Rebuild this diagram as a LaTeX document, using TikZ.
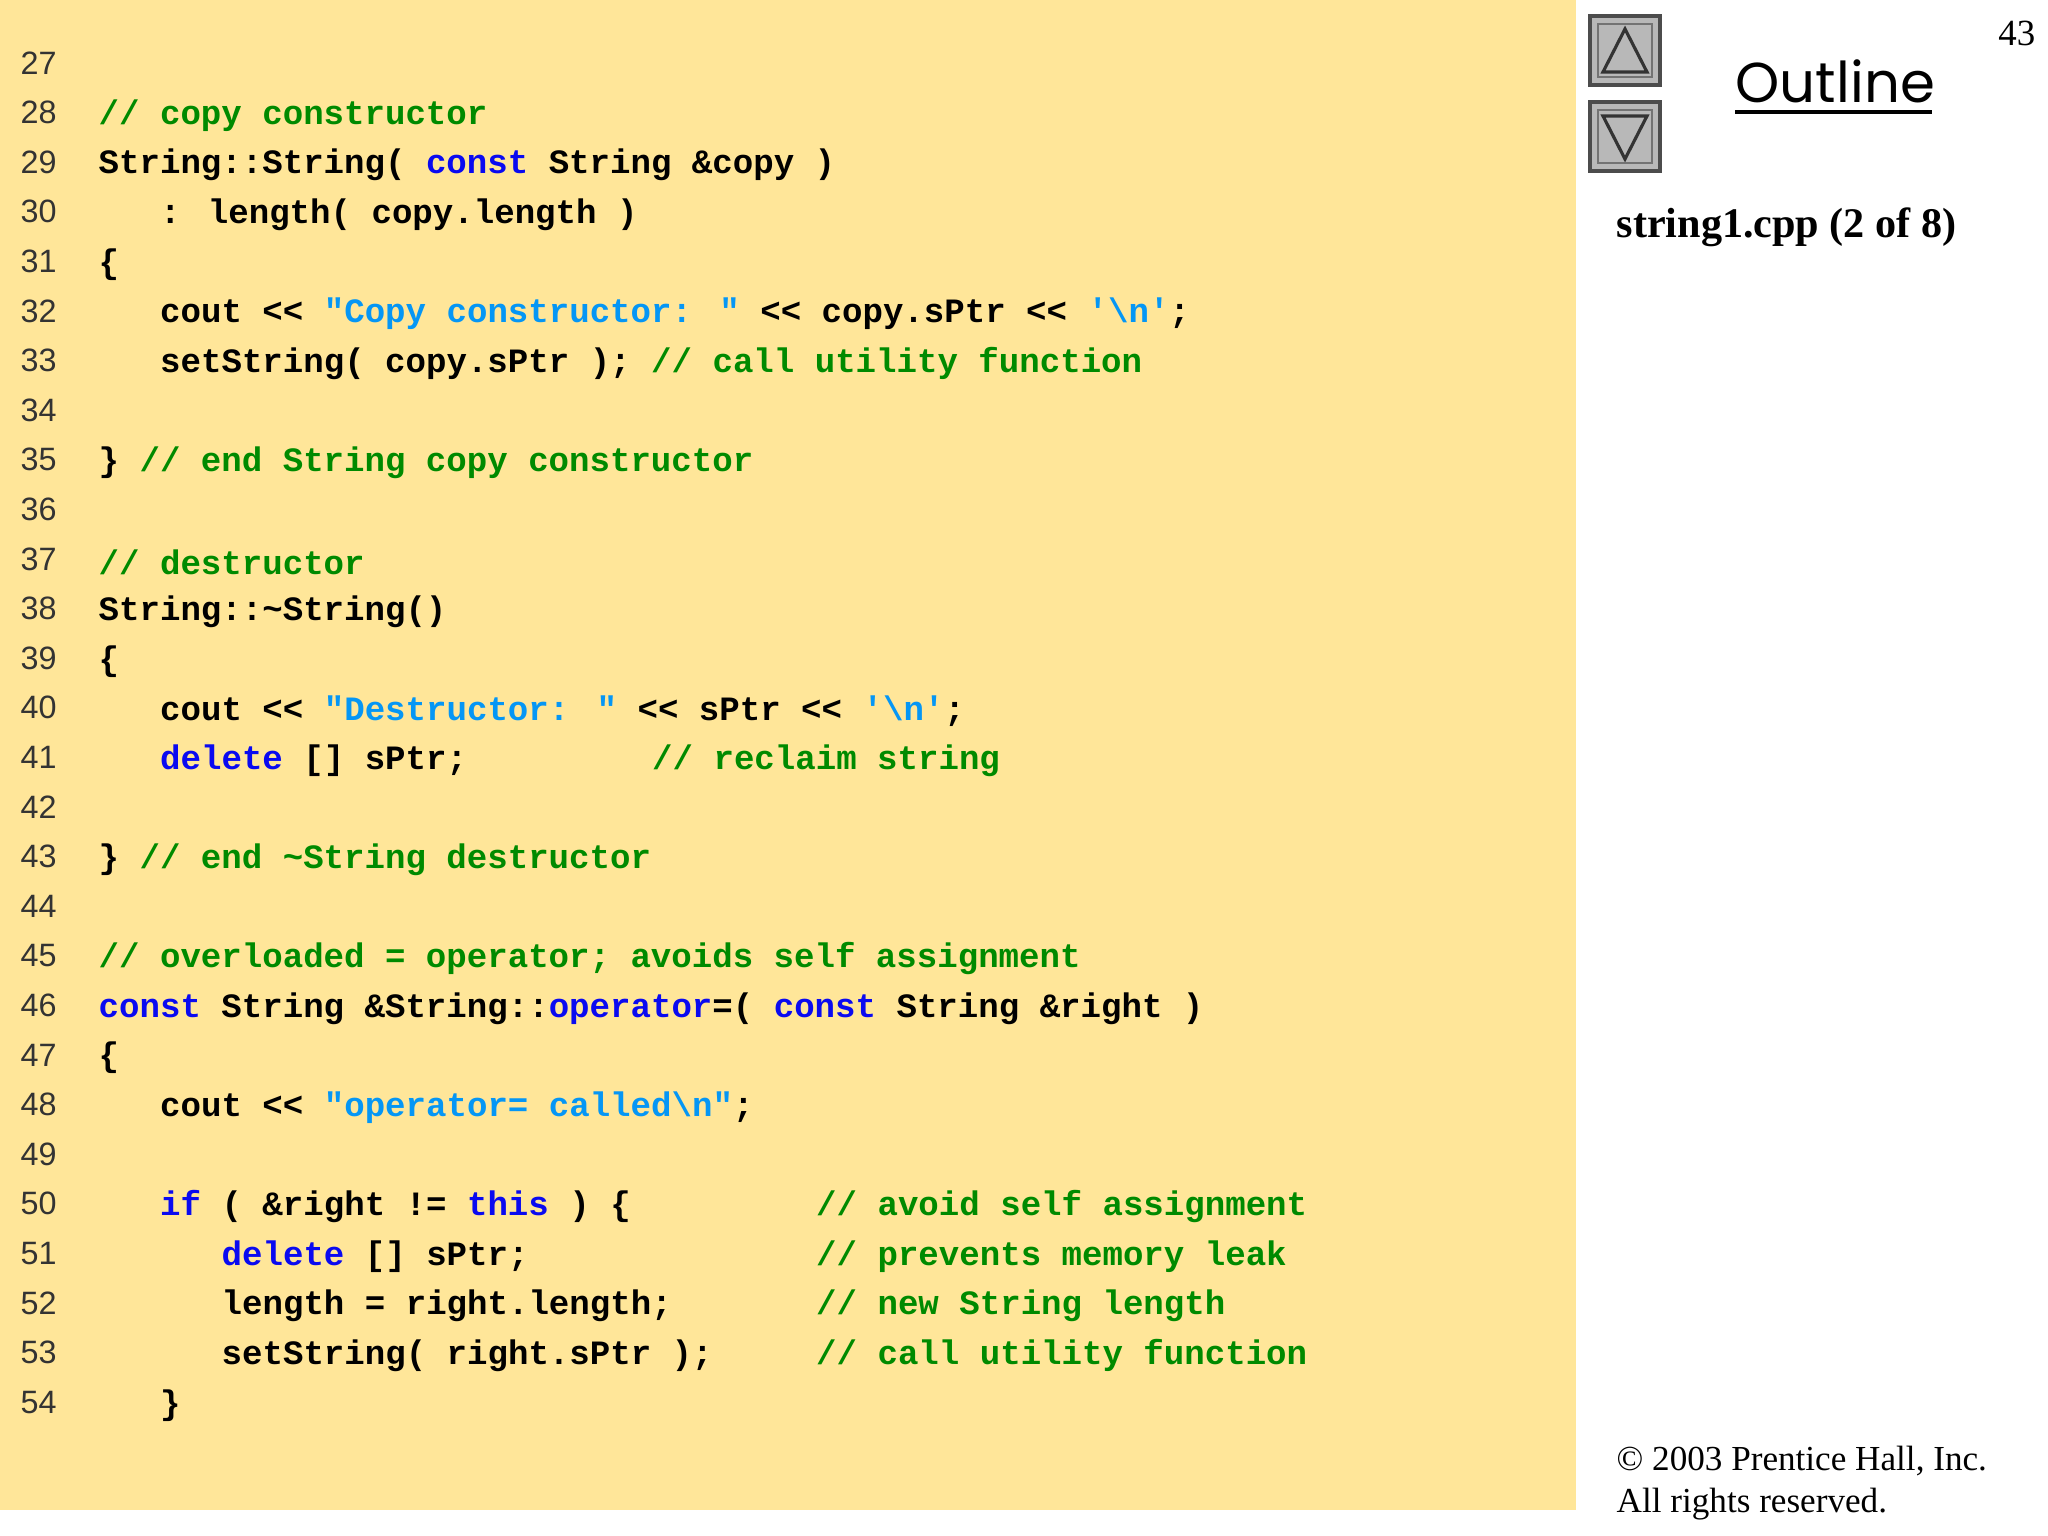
\documentclass[tikz,border=0pt]{standalone}
\usepackage{fontspec}
\setmainfont{Liberation Serif}
\newfontfamily\code{Liberation Mono}
\newfontfamily\numf{Liberation Sans}
\newfontfamily\outf{Poppins}
\definecolor{bgy}{HTML}{FFE699}
\definecolor{cmc}{HTML}{008A00}
\definecolor{kwc}{HTML}{0A0AF0}
\definecolor{stc}{HTML}{0596F5}
\newcommand\cm[1]{\textcolor{cmc}{#1}}
\newcommand\kw[1]{\textcolor{kwc}{#1}}
\newcommand\st[1]{\textcolor{stc}{#1}}
\newcommand\sq{\char39\relax}
\newcommand\dq{\char34\relax}
\begin{document}
\begin{tikzpicture}[
  ln/.style={anchor=west,inner sep=0pt,font=\numf\fontsize{9.2}{11}\selectfont,text=black!80},
  cl/.style={anchor=west,inner sep=0pt,font=\code\bfseries\fontsize{9.7}{12}\selectfont,text=black},
  btn/.style={draw=black!70,fill=black!28,line width=1pt}]
\useasboundingbox (0,0) rectangle (20.48,-15.36);
\fill[white] (0,0) rectangle (20.48,-15.36);
\fill[bgy] (0,0) rectangle (15.76,-15.10);
\foreach \n [count=\i from 0] in {27,...,54}
  \node[ln] (n\n) at (0.2,{-0.63-\i*0.496}) {\n};
\newcommand\Y[1]{{-0.66-(#1-27)*0.496}}
\newcommand\C[1]{{0.98+#1*0.205}}
\node[cl] (l28) at (\C0,\Y{28}) {\cm{// copy constructor}};
\node[cl] (l29) at (\C0,\Y{29}) {String::String( \kw{const} String \&copy )};
\node[cl] (l30) at (\C3,\Y{30}) {: length( copy.length )};
\node[cl] (l31) at (\C0,\Y{31}) {\{};
\node[cl] (l32) at (\C3,\Y{32}) {cout << \st{\dq Copy constructor: \dq} << copy.sPtr << \st{\sq\textbackslash n\sq};};
\node[cl] (l33) at (\C3,\Y{33}) {setString( copy.sPtr ); \cm{// call utility function}};
\node[cl] (l35) at (\C0,\Y{35}) {\} \cm{// end String copy constructor}};
\node[cl] (l37) at (\C0,\Y{37}) {\cm{// destructor}};
\node[cl] (l38) at (\C0,\Y{38}) {String::\textasciitilde String()};
\node[cl] (l39) at (\C0,\Y{39}) {\{};
\node[cl] (l40) at (\C3,\Y{40}) {cout << \st{\dq Destructor: \dq} << sPtr << \st{\sq\textbackslash n\sq};};
\node[cl] (l41) at (\C3,\Y{41}) {\kw{delete} [] sPtr;};
\node[cl] (c41) at (\C{27},\Y{41}) {\cm{// reclaim string}};
\node[cl] (l43) at (\C0,\Y{43}) {\} \cm{// end \textasciitilde String destructor}};
\node[cl] (l45) at (\C0,\Y{45}) {\cm{// overloaded = operator; avoids self assignment}};
\node[cl] (l46) at (\C0,\Y{46}) {\kw{const} String \&String::\kw{operator}=( \kw{const} String \&right )};
\node[cl] (l47) at (\C0,\Y{47}) {\{};
\node[cl] (l48) at (\C3,\Y{48}) {cout << \st{\dq operator= called\textbackslash n\dq};};
\node[cl] (l50) at (\C3,\Y{50}) {\kw{if} ( \&right != \kw{this} ) \{};
\node[cl] (c50) at (\C{35},\Y{50}) {\cm{// avoid self assignment}};
\node[cl] (l51) at (\C6,\Y{51}) {\kw{delete} [] sPtr;};
\node[cl] (c51) at (\C{35},\Y{51}) {\cm{// prevents memory leak}};
\node[cl] (l52) at (\C6,\Y{52}) {length = right.length;};
\node[cl] (c52) at (\C{35},\Y{52}) {\cm{// new String length}};
\node[cl] (l53) at (\C6,\Y{53}) {setString( right.sPtr );};
\node[cl] (c53) at (\C{35},\Y{53}) {\cm{// call utility function}};
\node[cl] (l54) at (\C3,\Y{54}) {\}};
% nav buttons
\draw[btn] (15.90,-0.16) rectangle (16.60,-0.85);
\draw[black!55,line width=0.8pt] (15.98,-0.24) rectangle (16.52,-0.77);
\draw[black!80,fill=black!28,line width=0.9pt] (16.03,-0.72) -- (16.47,-0.72) -- (16.25,-0.29) -- cycle;
\draw[btn] (15.90,-1.02) rectangle (16.60,-1.71);
\draw[black!55,line width=0.8pt] (15.98,-1.10) rectangle (16.52,-1.63);
\draw[black!80,fill=black!28,line width=0.9pt] (16.03,-1.16) -- (16.47,-1.16) -- (16.25,-1.59) -- cycle;
\node[anchor=base west,inner sep=0pt,font=\outf\fontsize{16}{19}\selectfont] (out) at (17.35,-1.03) {Outline};
\draw[line width=1pt] (out.base west)++(0,-0.09) -- ++(1.97,0);
\node[anchor=base east,inner sep=0pt,font=\fontsize{10.5}{13}\selectfont] (pg) at (20.36,-0.46) {43};
\node[anchor=base west,inner sep=0pt,font=\bfseries\fontsize{12}{15}\selectfont] (fn) at (16.16,-2.38) {string1.cpp (2 of 8)};
\node[anchor=base west,inner sep=0pt,font=\fontsize{10}{12}\selectfont] (cp1) at (16.16,-14.70) {\textcopyright{} 2003 Prentice Hall, Inc.};
\node[anchor=base west,inner sep=0pt,font=\fontsize{10}{12}\selectfont] (cp2) at (16.16,-15.12) {All rights reserved.};
\end{tikzpicture}
\end{document}
